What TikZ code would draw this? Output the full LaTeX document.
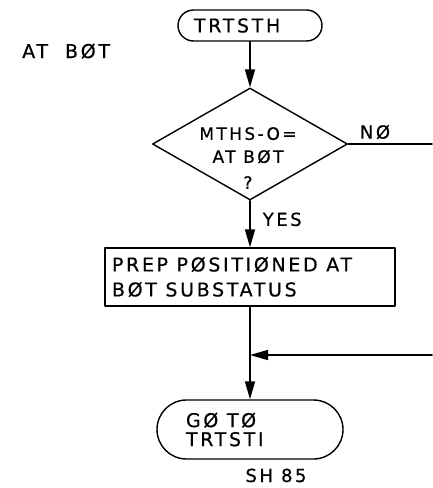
\documentclass[tikz,border=0pt]{standalone}
\usepackage{fontspec}
\setmainfont[LetterSpace=14,FakeBold=0.6]{DejaVu Sans}
\usetikzlibrary{shapes.geometric,shapes.misc,arrows.meta,positioning}
\newcommand\handfont[2]{\fontsize{#1}{#2}\selectfont\spaceskip=0.45em\relax}
\newcommand\wordgap{\spaceskip=0.45em\relax}

\begin{document}
\begin{tikzpicture}[x=1pt,y=-1pt,line join=round,line cap=round,
    flow/.style={line width=1.6pt,-{Triangle[width=10pt,length=18pt]}},
    plain/.style={line width=1.6pt},
    term/.style={rounded rectangle,draw,line width=1.4pt,inner sep=0pt},
    lbl/.style={inner sep=0pt,font=\handfont{18}{20}}]
  \useasboundingbox (0,0) rectangle (432,488);
  % side heading
  \node[lbl,anchor=base west,font=\handfont{19}{22}] (hdr) at (22,58) {AT\hspace{0.9em}BØT};
  % entry
  \node[term,minimum width=144pt,minimum height=31pt,font=\handfont{19}{20}] (start) at (250,25.5) {\makebox[112pt][l]{TRTSTH}};
  % decision
  \node[diamond,draw,line width=1.4pt,minimum width=195pt,minimum height=112pt,inner sep=0pt] (chk) at (250,144) {};
  \node[lbl,align=center,font=\handfont{17}{23}] (chktxt) at (248,158) {MTHS-O=\\AT BØT\\[3pt]?};
  % process
  \node[draw,line width=1.4pt,text width=276pt,inner xsep=7pt,inner ysep=0pt,minimum height=58pt,align=left,font=\handfont{19}{25}] (prep) at (250,277) {\wordgap PREP PØSITIØNED AT\\BØT SUBSTATUS};
  % exit
  \node[term,minimum width=186pt,minimum height=59pt,text width=128pt,align=left,font=\handfont{19}{19}] (goto) at (250,429.5) {\wordgap GØ TØ\\TRTSTI};
  \node[lbl,anchor=base] (sheet) at (276,482) {SH 85};
  % connectors
  \coordinate (noend) at (432,144);
  \coordinate (join) at (250,355);
  \coordinate (retend) at (432,355);
  \draw[flow] (start.south) -- (chk.north);
  \draw[flow] (chk.south) -- node[lbl,pos=0.4,anchor=west,xshift=12pt] (yes) {YES} (prep.north);
  \draw[plain] (chk.east) -- node[lbl,pos=0.32,above=4pt] (no) {NØ} (noend);
  \draw[flow] (prep.south) -- (goto.north);
  \draw[flow] (retend) -- (join);
\end{tikzpicture}
\end{document}
